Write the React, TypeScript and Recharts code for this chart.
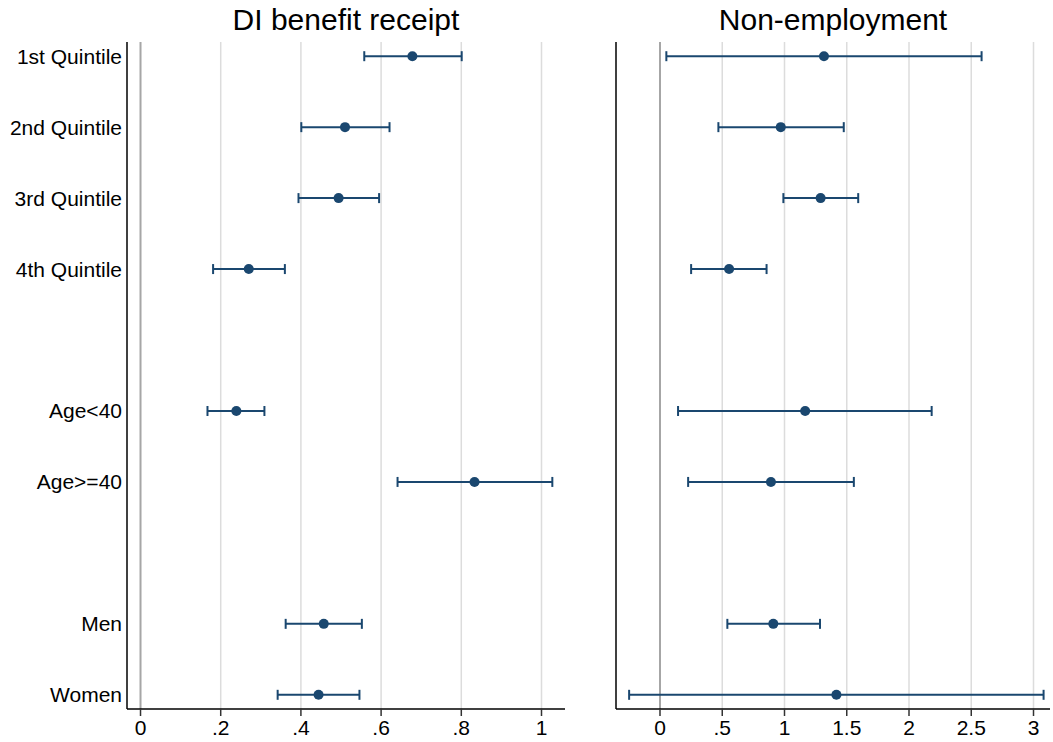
import React from "react";
import {
  ErrorBar,
  ReferenceLine,
  Scatter,
  ScatterChart,
  XAxis,
  YAxis,
} from "recharts";

// row labels, blanks are spacer rows
const categories = [
  "1st Quintile",
  "2nd Quintile",
  "3rd Quintile",
  "4th Quintile",
  "",
  "Age<40",
  "Age>=40",
  "",
  "Men",
  "Women",
];

// DI benefit receipt
const diEst = [0.678, 0.51, 0.494, 0.27, null, 0.239, 0.833, null, 0.457, 0.444];
const diLo = [0.558, 0.401, 0.394, 0.181, null, 0.167, 0.641, null, 0.362, 0.342];
const diHi = [0.801, 0.621, 0.595, 0.36, null, 0.309, 1.027, null, 0.552, 0.546];

// Non-employment
const neEst = [1.317, 0.97, 1.29, 0.555, null, 1.166, 0.891, null, 0.91, 1.417];
const neLo = [0.051, 0.469, 0.991, 0.25, null, 0.145, 0.226, null, 0.541, -0.248];
const neHi = [2.583, 1.476, 1.592, 0.856, null, 2.182, 1.557, null, 1.285, 3.081];

const diTicks = [0, 0.2, 0.4, 0.6, 0.8, 1];
const neTicks = [0, 0.5, 1, 1.5, 2, 2.5, 3];

const NAVY = "#1a476f";
const FONT = "'Liberation Sans', Arial, sans-serif";

const rowTicks = categories
  .map((c, i) => (c ? i + 1 : null))
  .filter((v) => v !== null) as number[];

function buildRows(est: (number | null)[], lo: (number | null)[], hi: (number | null)[]) {
  const rows: { x: number; y: number; err: [number, number] }[] = [];
  est.forEach((e, i) => {
    if (e === null) return;
    rows.push({ x: e, y: i + 1, err: [e - (lo[i] as number), (hi[i] as number) - e] });
  });
  return rows;
}

const fmt = (v: number) => (v === 0 ? "0" : String(v).replace(/^0\./, "."));

const Dot = (props: any) => <circle cx={props.cx} cy={props.cy} r={5} fill={NAVY} />;

interface PanelProps {
  title: string;
  data: { x: number; y: number; err: [number, number] }[];
  ticks: number[];
  domain: [number, number];
  width: number;
  left: number;
  yWidth: number;
  rightMargin: number;
  showLabels: boolean;
}

function Panel({ title, data, ticks, domain, width, left, yWidth, rightMargin, showLabels }: PanelProps) {
  const plotCenter = yWidth + (width - yWidth - rightMargin) / 2;
  return (
    <div style={{ position: "absolute", left, top: 0, width, height: 742 }}>
      <div
        style={{
          position: "absolute",
          left: plotCenter - 200,
          width: 400,
          top: 5,
          textAlign: "center",
          fontFamily: FONT,
          fontSize: 30,
          lineHeight: "30px",
          color: "#000",
        }}
      >
        {title}
      </div>
      <ScatterChart
        width={width}
        height={742}
        margin={{ top: 42, right: rightMargin, bottom: 0, left: 0 }}
      >
        <XAxis
          type="number"
          dataKey="x"
          domain={domain}
          allowDataOverflow
          ticks={ticks}
          interval={0}
          tickFormatter={fmt}
          height={33}
          tickSize={7}
          tickMargin={4}
          axisLine={{ stroke: "#000", strokeWidth: 1.5 }}
          tickLine={{ stroke: "#333", strokeWidth: 1.5 }}
          tick={{ fill: "#000", fontSize: 21, fontFamily: FONT }}
        />
        <YAxis
          type="number"
          dataKey="y"
          domain={[0.8, 10.2]}
          allowDataOverflow
          reversed
          ticks={rowTicks}
          interval={0}
          width={yWidth}
          tickFormatter={(v: number) => categories[v - 1]}
          tickLine={false}
          tickSize={0}
          tickMargin={5}
          axisLine={{ stroke: "#000", strokeWidth: 1.5 }}
          tick={showLabels ? { fill: "#000", fontSize: 21, fontFamily: FONT } : false}
        />
        {ticks
          .filter((t) => t !== 0)
          .map((t) => (
            <ReferenceLine key={t} x={t} stroke="#dcdcdc" strokeWidth={1.5} />
          ))}
        <ReferenceLine x={0} stroke="#a6a6a6" strokeWidth={2} />
        <Scatter data={data} shape={Dot} isAnimationActive={false}>
          <ErrorBar dataKey="err" direction="x" width={5} stroke={NAVY} strokeWidth={2} />
        </Scatter>
      </ScatterChart>
    </div>
  );
}

export default function App() {
  return (
    <div
      style={{
        position: "absolute",
        left: 0,
        top: 0,
        width: 1053,
        height: 742,
        background: "#fff",
        overflow: "hidden",
      }}
    >
      <Panel
        title="DI benefit receipt"
        data={buildRows(diEst, diLo, diHi)}
        ticks={diTicks}
        domain={[-0.0337, 1.0586]}
        width={576}
        left={0}
        yWidth={127}
        rightMargin={11}
        showLabels
      />
      <Panel
        title="Non-employment"
        data={buildRows(neEst, neLo, neHi)}
        ticks={neTicks}
        domain={[-0.3534, 3.1325]}
        width={477}
        left={576}
        yWidth={40}
        rightMargin={3}
        showLabels={false}
      />
    </div>
  );
}
